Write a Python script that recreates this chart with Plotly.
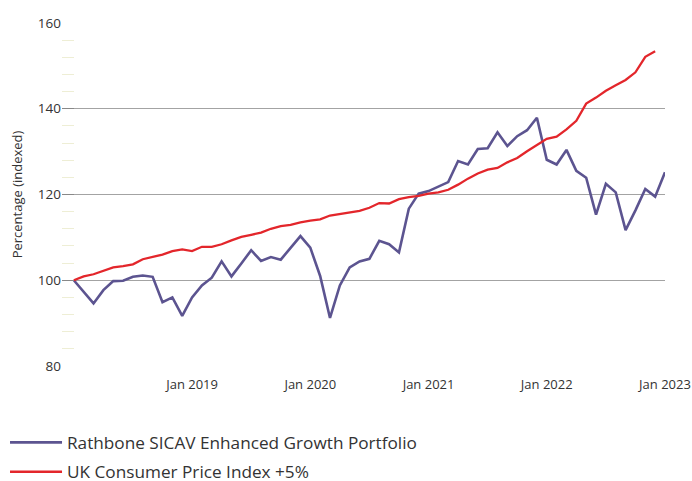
import plotly.graph_objects as go

# Monthly points, Jan 2018 .. Jan 2023 (index 0..60)
months = [f"{['Jan','Feb','Mar','Apr','May','Jun','Jul','Aug','Sep','Oct','Nov','Dec'][m % 12]} {2018 + m // 12}" for m in range(61)]

rathbone = [100.0, 97.3, 94.6, 97.7, 99.8, 99.9, 100.8, 101.1, 100.8, 94.9,
            96.0, 91.7, 96.0, 98.8, 100.6, 104.4, 100.9, 103.9, 107.0, 104.5,
            105.4, 104.8, 107.5, 110.3, 107.6, 101.0, 91.2, 98.8, 103.0, 104.4,
            105.0, 109.2, 108.4, 106.5, 116.7, 120.2, 120.8, 121.8, 122.9, 127.8,
            127.0, 130.6, 130.8, 134.5, 131.3, 133.6, 135.0, 137.9, 128.1, 127.0,
            130.4, 125.5, 123.9, 115.3, 122.5, 120.5, 111.7, 116.3, 121.3, 119.5,
            125.2]

cpi_plus5 = [100.0, 100.9, 101.4, 102.2, 103.0, 103.3, 103.7, 104.9, 105.4, 106.0,
             106.8, 107.2, 106.8, 107.8, 107.8, 108.4, 109.3, 110.1, 110.6, 111.1,
             112.0, 112.6, 112.9, 113.5, 113.9, 114.2, 115.1, 115.5, 115.8, 116.2,
             116.9, 118.0, 117.9, 118.9, 119.4, 119.7, 120.2, 120.5, 121.1, 122.3,
             123.7, 124.9, 125.8, 126.2, 127.5, 128.5, 130.1, 131.6, 133.0, 133.5,
             135.2, 137.2, 141.2, 142.6, 144.2, 145.5, 146.7, 148.5, 152.1, 153.4]

tick_idx = [12, 24, 36, 48, 60]
tick_text = ["Jan 2019", "Jan 2020", "Jan 2021", "Jan 2022", "Jan 2023"]
y_ticks = [80, 100, 120, 140, 160]

FONT = "Open Sans"

fig = go.Figure()
fig.add_trace(go.Scatter(
    x=list(range(len(rathbone))), y=rathbone, mode="lines",
    name="Rathbone SICAV Enhanced Growth Portfolio",
    text=months[:len(rathbone)],
    line=dict(color="#5c5490", width=2.6),
    legendgroup="a",
))
fig.add_trace(go.Scatter(
    x=list(range(len(cpi_plus5))), y=cpi_plus5, mode="lines",
    name="UK Consumer Price Index +5%",
    text=months[:len(cpi_plus5)],
    line=dict(color="#e3262b", width=2.3),
    legendgroup="b",
))

fig.update_layout(
    width=692, height=481,
    margin=dict(l=62, r=27, t=23, b=115, autoexpand=False),
    paper_bgcolor="white", plot_bgcolor="white",
    font=dict(family=FONT, color="#333333", size=13),
    showlegend=True,
    legend=dict(
        orientation="v", x=-0.0945, xanchor="left",
        yref="container", y=0.117, yanchor="top",
        font=dict(family=FONT, size=17.2, color="#333333"),
        itemwidth=52, tracegroupgap=4, traceorder="grouped",
        bgcolor="rgba(0,0,0,0)",
    ),
    xaxis=dict(
        range=[-1.2, 60], tickmode="array", tickvals=tick_idx, ticktext=tick_text,
        showgrid=False, zeroline=False, showline=False,
        ticks="outside", ticklen=6, tickcolor="rgba(0,0,0,0)",
        tickfont=dict(family=FONT, size=13, color="#333333"),
    ),
    yaxis=dict(
        range=[80, 160], tickmode="array", tickvals=y_ticks,
        showgrid=True, gridcolor="#a3a3a3", gridwidth=1.4, zeroline=False,
        showline=False, ticks="inside", ticklen=12, tickcolor="#888888", tickwidth=1.4,
        tickfont=dict(family=FONT, size=13.5, color="#333333"),
        title=dict(text="Percentage (indexed)", font=dict(family=FONT, size=13, color="#333333"), standoff=12),
        minor=dict(tickmode="linear", tick0=80, dtick=4, ticks="inside", ticklen=12,
                   tickcolor="#eeeed5", tickwidth=1, showgrid=False),
    ),
)

fig.write_html("out.html")
